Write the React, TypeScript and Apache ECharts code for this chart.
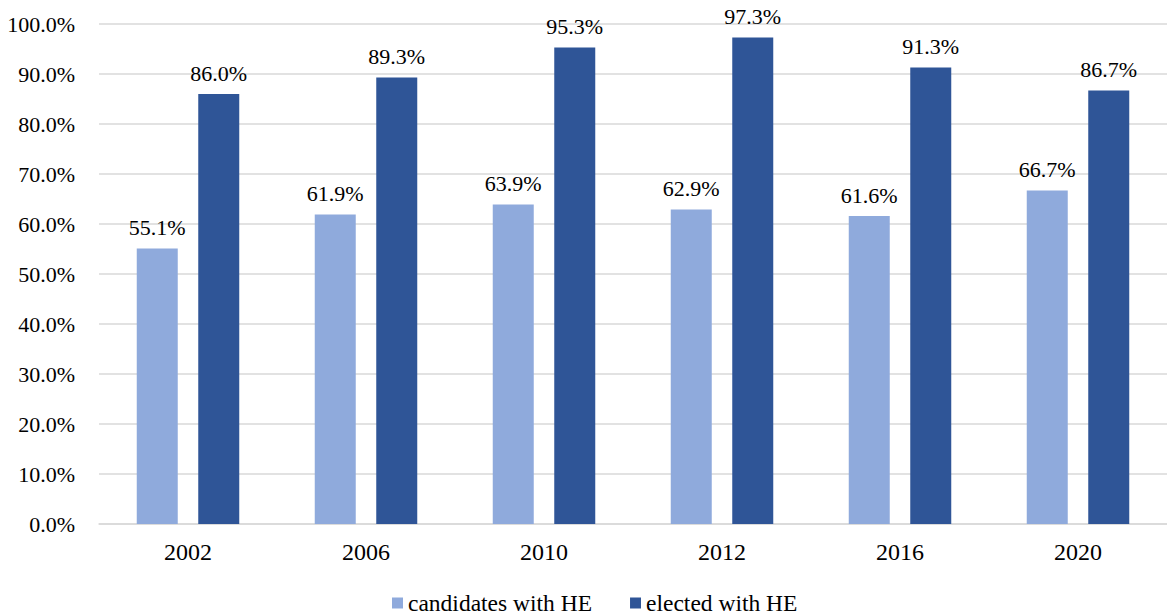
import React, { useEffect, useRef } from "react";
import * as echarts from "echarts";

const categories = ["2002", "2006", "2010", "2012", "2016", "2020"];
const candidates = [55.1, 61.9, 63.9, 62.9, 61.6, 66.7];
const elected = [86.0, 89.3, 95.3, 97.3, 91.3, 86.7];
const seriesNames = ["candidates with HE", "elected with HE"];

const FONT = "Liberation Serif";

export default function App() {
  const ref = useRef<HTMLDivElement>(null);
  useEffect(() => {
    if (!ref.current) return;
    const chart = echarts.init(ref.current, null, { renderer: "svg" });
    const label = {
      show: true,
      position: "top",
      distance: 10,
      color: "#000",
      fontFamily: FONT,
      fontSize: 22,
      formatter: (p: any) => p.value.toFixed(1) + "%",
    };
    chart.setOption({
      animation: false,
      backgroundColor: "#fff",
      textStyle: { fontFamily: FONT },
      grid: { left: 99, right: 0, top: 24, bottom: 91, containLabel: false },
      legend: {
        bottom: 0,
        padding: 0,
        left: 392,
        itemWidth: 11,
        itemHeight: 11,
        itemGap: 38,
        icon: "rect",
        textStyle: { fontFamily: FONT, fontSize: 23.5, color: "#000", lineHeight: 24 },
        data: seriesNames,
      },
      xAxis: {
        type: "category",
        data: categories,
        axisLine: { lineStyle: { color: "#D9D9D9", width: 1.5 } },
        axisTick: { show: false },
        axisLabel: { color: "#000", fontFamily: FONT, fontSize: 24, margin: 16 },
      },
      yAxis: {
        type: "value",
        min: 0,
        max: 100,
        interval: 10,
        axisLine: { show: false },
        axisTick: { show: false },
        splitLine: { lineStyle: { color: "#D9D9D9", width: 1.5 } },
        axisLabel: {
          color: "#000",
          fontFamily: FONT,
          fontSize: 22,
          margin: 24,
          formatter: (v: number) => v.toFixed(1) + "%",
        },
      },
      series: [
        {
          name: seriesNames[0],
          type: "bar",
          data: candidates,
          barWidth: 41,
          barGap: "50%",
          itemStyle: { color: "#8FAADC" },
          label,
        },
        {
          name: seriesNames[1],
          type: "bar",
          data: elected,
          barWidth: 41,
          barGap: "50%",
          itemStyle: { color: "#2F5597" },
          label,
        },
      ],
    });
    return () => chart.dispose();
  }, []);
  return (
    <div
      ref={ref}
      style={{ position: "fixed", left: 0, top: 0, width: 1167, height: 615 }}
    />
  );
}
